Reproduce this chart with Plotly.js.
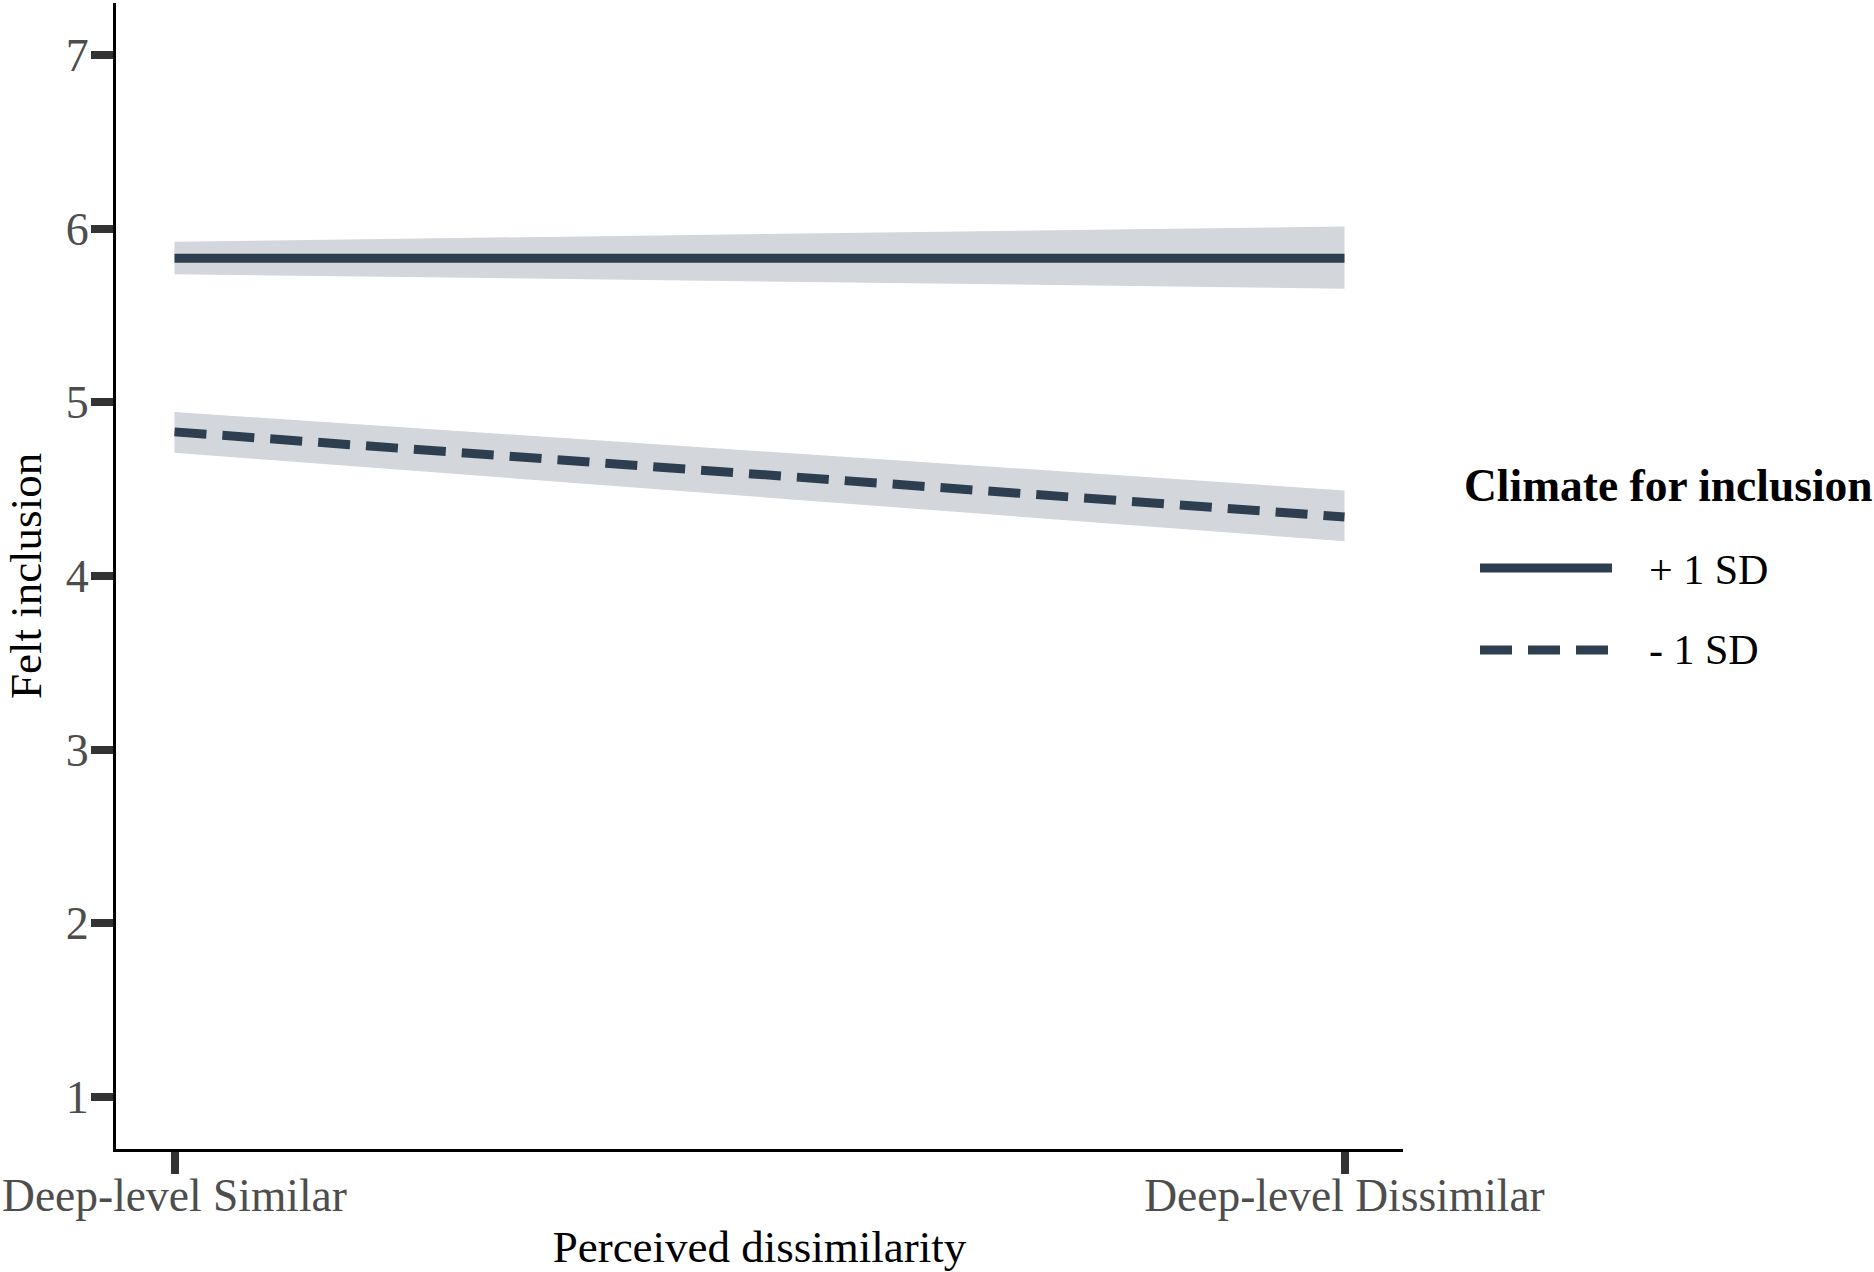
<!DOCTYPE html>
<html>
<head>
<meta charset="utf-8">
<script src="https://cdn.plot.ly/plotly-3.0.1.min.js"></script>
<style>html,body{margin:0;padding:0;background:#fff;}#chart{width:1874px;height:1272px;}</style>
</head>
<body>
<div id="chart"></div>
<script>
// ---- data ----
const xPos = [0, 1];
const xTickLabels = ["Deep-level Similar", "Deep-level Dissimilar"];
const yTicks = [1, 2, 3, 4, 5, 6, 7];
const seriesNames = ["+ 1 SD", "- 1 SD"];
const highFit = [5.83, 5.83];
const highUpper = [5.925, 6.013];
const highLower = [5.738, 5.655];
const lowFit = [4.83, 4.34];
const lowUpper = [4.945, 4.493];
const lowLower = [4.71, 4.20];

const lineColor = "#2C3E50";
const bandColor = "rgb(211,214,219)";

function band(upper, lower) {
  return {
    x: xPos.concat(xPos.slice().reverse()),
    y: upper.concat(lower.slice().reverse()),
    type: "scatter", mode: "lines", fill: "toself",
    fillcolor: bandColor, line: {width: 0, color: bandColor},
    hoverinfo: "skip", showlegend: false
  };
}

const traces = [
  band(highUpper, highLower),
  band(lowUpper, lowLower),
  {x: xPos, y: highFit, type: "scatter", mode: "lines", name: seriesNames[0],
   line: {color: lineColor, width: 9}, showlegend: false},
  {x: xPos, y: lowFit, type: "scatter", mode: "lines", name: seriesNames[1],
   line: {color: lineColor, width: 9, dash: "32px,16px"}, showlegend: false}
];

// paper coordinate helpers for the hand-drawn legend
const L = 116, R = 1403, T = 3, B = 1149;
const px = v => (v - L) / (R - L);
const py = v => (B - v) / (B - T);

const font = "Liberation Serif, Times New Roman, serif";

const layout = {
  width: 1874, height: 1272,
  margin: {l: L, r: 1874 - R, t: T, b: 1272 - B, pad: 0},
  paper_bgcolor: "#fff", plot_bgcolor: "#fff",
  font: {family: font},
  showlegend: false,
  xaxis: {
    range: [-0.05, 1.05], tickvals: xPos, ticktext: xTickLabels,
    showgrid: false, zeroline: false,
    showline: true, linecolor: "#000", linewidth: 3,
    ticks: "outside", ticklen: 22, tickwidth: 8, tickcolor: "#333",
    ticklabelstandoff: -18,
    tickfont: {family: font, size: 45.5, color: "#4D4D4D"},
    title: {text: "Perceived dissimilarity", font: {family: font, size: 45, color: "#000"}, standoff: 13},
    automargin: false
  },
  yaxis: {
    range: [0.7, 7.3], tickvals: yTicks, ticktext: yTicks.map(String),
    showgrid: false, zeroline: false,
    showline: true, linecolor: "#000", linewidth: 3,
    ticks: "outside", ticklen: 22, tickwidth: 8, tickcolor: "#333",
    ticklabelstandoff: -7,
    tickfont: {family: font, size: 46, color: "#4D4D4D"},
    title: {text: "Felt inclusion", font: {family: font, size: 45, color: "#000"}, standoff: 11},
    automargin: false
  },
  shapes: [
    {type: "line", xref: "paper", yref: "paper", x0: px(1480), x1: px(1612), y0: py(568), y1: py(568),
     line: {color: lineColor, width: 9}},
    {type: "line", xref: "paper", yref: "paper", x0: px(1480), x1: px(1612), y0: py(650), y1: py(650),
     line: {color: lineColor, width: 9, dash: "32px,16px"}}
  ],
  annotations: [
    {xref: "paper", yref: "paper", x: px(1462), y: py(486), xanchor: "left", yanchor: "middle",
     text: "<b>Climate for inclusion</b>", showarrow: false, font: {family: font, size: 45.5, color: "#000"}},
    {xref: "paper", yref: "paper", x: px(1647), y: py(570), xanchor: "left", yanchor: "middle",
     text: seriesNames[0], showarrow: false, font: {family: font, size: 42, color: "#000"}},
    {xref: "paper", yref: "paper", x: px(1647), y: py(650), xanchor: "left", yanchor: "middle",
     text: seriesNames[1], showarrow: false, font: {family: font, size: 42, color: "#000"}}
  ]
};

Plotly.newPlot("chart", traces, layout, {displayModeBar: false, staticPlot: true});
</script>
</body>
</html>
